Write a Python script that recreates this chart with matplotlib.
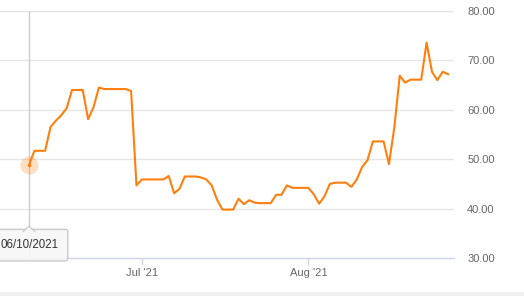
import pandas as pd
import matplotlib
matplotlib.use("Agg")
import matplotlib.pyplot as plt
import matplotlib.dates as mdates
import matplotlib.transforms as mtransforms
from matplotlib.patches import Rectangle, Polygon

plt.rcParams['font.family'] = ['Liberation Sans', 'DejaVu Sans']

# valores diarios (10/06/2021 a 27/08/2021)
start_date = "2021-06-10"
prices = [
    48.8, 51.7, 51.7, 51.7, 56.5, 57.8, 58.9, 60.3, 64.0, 64.0,
    64.0, 58.1, 60.5, 64.5, 64.2, 64.2, 64.2, 64.2, 64.2, 63.8,
    44.7, 45.9, 45.9, 45.9, 45.9, 45.9, 46.6, 43.1, 44.0, 46.5,
    46.5, 46.5, 46.3, 45.9, 44.7, 41.8, 39.8, 39.8, 39.8, 42.0,
    40.9, 41.7, 41.2, 41.1, 41.1, 41.1, 42.8, 42.8, 44.7, 44.2,
    44.2, 44.2, 44.2, 42.9, 41.0, 42.5, 45.0, 45.25, 45.25, 45.25,
    44.4, 45.9, 48.4, 49.8, 53.6, 53.6, 53.6, 49.0, 56.5, 66.9,
    65.5, 66.1, 66.1, 66.1, 73.6, 67.7, 66.0, 67.7, 67.2,
]
dates = pd.date_range(start_date, periods=len(prices), freq="D")
y_ticks = [30, 40, 50, 60, 70, 80]
hover_idx = 0

orange = "#ff7f0e"
label_color = "#666666"
axis_color = "#ccd6eb"

fig = plt.figure(figsize=(5.24, 2.96), dpi=100)
ax = fig.add_axes([0.0, 0.1284, 0.8664, 0.8344])

ax.plot(dates, prices, color=orange, lw=1.5, zorder=3, solid_joinstyle="round")

ax.set_ylim(30, 80)
ax.set_xlim(dates[0] - pd.Timedelta(days=5.4), dates[0] + pd.Timedelta(days=79.1))
ax.set_yticks(y_ticks)
ax.set_yticklabels([f"{v:.2f}" for v in y_ticks])
ax.yaxis.tick_right()
ax.tick_params(axis="y", length=0, pad=9.5, labelsize=8, labelcolor=label_color)

ax.xaxis.set_major_locator(mdates.MonthLocator(bymonth=[7, 8], bymonthday=1))
ax.xaxis.set_major_formatter(mdates.DateFormatter("%b '%y"))
ax.tick_params(axis="x", length=5, width=1, color=axis_color, pad=2,
               labelsize=8, labelcolor=label_color)

for s in ["top", "left", "right"]:
    ax.spines[s].set_visible(False)
ax.spines["bottom"].set_color(axis_color)
ax.spines["bottom"].set_linewidth(1)

for v in y_ticks[1:]:
    ax.axhline(v, color="#e6e6e6", lw=1, zorder=1)

# crosshair e ponto destacado
hx, hy = dates[hover_idx], prices[hover_idx]
ax.axvline(hx, color="#cccccc", lw=1, zorder=2)
ax.plot([hx], [hy], "o", ms=13, color=orange, alpha=0.25, mec="none", zorder=4)
ax.plot([hx], [hy], "o", ms=2.5, color=orange, mec="none", zorder=5)

# tooltip
ax.annotate(dates[hover_idx].strftime("%m/%d/%Y"), xy=(hx, hy),
            xytext=(0, -80), textcoords="offset pixels",
            ha="center", va="center", fontsize=8.3, color="#333333",
            bbox=dict(boxstyle="round,pad=0.85,rounding_size=0.2",
                      fc="#f7f7f7", ec="#c8c8c8", lw=1, alpha=0.95),
            zorder=6, annotation_clip=False)
# seta do tooltip, em pixels relativos ao ponto
anchor = mtransforms.Affine2D() + mtransforms.ScaledTranslation(
    mdates.date2num(hx), hy, ax.transData)
ax.add_patch(Polygon([(-6, -67.5), (0, -61), (6, -67.5)], closed=True,
                     fc="#f7f7f7", ec="none", transform=anchor, zorder=7,
                     clip_on=False))
ax.plot([-6, 0, 6], [-66.5, -61, -66.5], color="#c8c8c8", lw=0.8,
        transform=anchor, zorder=8, clip_on=False)

# faixa cinza no rodapé
fig.patches.append(Rectangle((0, 0), 1, 4 / 296, transform=fig.transFigure,
                             fc="#f0f0f0", ec="none"))

fig.savefig("out.png", dpi=100)
plt.close(fig)
